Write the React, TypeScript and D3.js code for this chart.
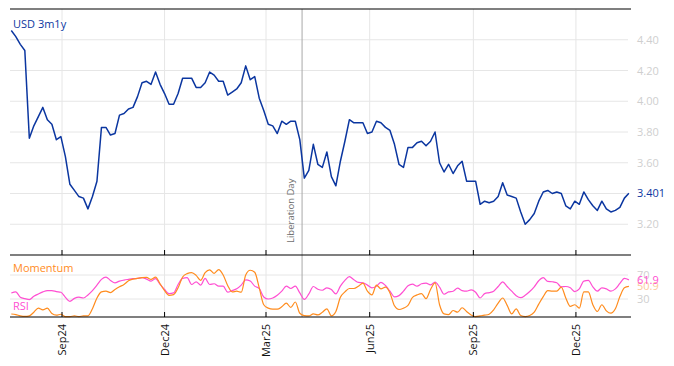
import React from 'react';
import * as d3 from 'd3';

// sampling of the series: one reading every 4 calendar days
const startDate = new Date(2024, 6, 18);
const stepDays = 4;

const usd3m1y = [
  4.46, 4.42, 4.37, 4.33, 3.76, 3.84, 3.90, 3.96, 3.88, 3.85,
  3.75, 3.77, 3.64, 3.46, 3.42, 3.38, 3.37, 3.30, 3.38, 3.48,
  3.83, 3.83, 3.78, 3.79, 3.91, 3.92, 3.95, 3.96, 4.03, 4.12,
  4.13, 4.11, 4.19, 4.11, 4.05, 3.98, 3.98, 4.05, 4.15, 4.15,
  4.15, 4.09, 4.09, 4.12, 4.19, 4.17, 4.13, 4.13, 4.04, 4.06,
  4.08, 4.12, 4.23, 4.14, 4.16, 4.02, 3.94, 3.85, 3.84, 3.79,
  3.87, 3.85, 3.87, 3.87, 3.75, 3.50, 3.55, 3.72, 3.59, 3.57,
  3.67, 3.51, 3.45, 3.61, 3.74, 3.88, 3.86, 3.86, 3.86, 3.79,
  3.80, 3.87, 3.86, 3.83, 3.81, 3.72, 3.59, 3.57, 3.70, 3.70,
  3.73, 3.74, 3.71, 3.74, 3.80, 3.60, 3.54, 3.59, 3.53, 3.58,
  3.61, 3.48, 3.48, 3.48, 3.33, 3.35, 3.34, 3.35, 3.38, 3.47,
  3.39, 3.38, 3.37, 3.28, 3.20, 3.23, 3.27, 3.35, 3.41, 3.42,
  3.40, 3.41, 3.40, 3.32, 3.30, 3.35, 3.33, 3.41, 3.36, 3.32,
  3.29, 3.35, 3.30, 3.28, 3.29, 3.31, 3.37, 3.401,
];

const rsi = [
  40, 42, 33, 30.6, 29, 34.5, 38.4, 41.8, 44, 44,
  42.4, 41.3, 32.8, 26, 31, 33, 31.7, 36.8, 44, 53,
  62.7, 66.6, 61, 57, 59.9, 61.5, 62.7, 63.8, 64.4, 65.5,
  63.2, 59.9, 63.8, 54.2, 45.8, 39, 40.1, 54.2, 64.4, 65.5,
  54.2, 58.7, 53.1, 64.4, 54.2, 55.4, 51.4, 51.4, 41.3, 44,
  47, 53.1, 62, 59.9, 51.4, 47.5, 33.4, 30, 31.7, 36.2,
  43, 51.4, 47.5, 51.4, 40.1, 29.4, 38.4, 50.8, 46.3, 44.6,
  48.6, 45.8, 38.4, 51.4, 61, 67.2, 62.1, 57.6, 57, 53.1,
  48.6, 51.4, 57.6, 52.5, 43, 33.4, 35.6, 43, 52, 54.8,
  51.4, 55.4, 56.5, 53.7, 58.2, 49.7, 37.9, 41.8, 43, 48,
  44, 43, 45.2, 41.3, 31.7, 39, 40.7, 43, 50.8, 58.7,
  50.8, 43, 35.6, 32.3, 36.2, 42.4, 50.3, 60.4, 65.5, 59.3,
  58.7, 57, 50.3, 50.8, 48.6, 42.4, 46.9, 59.9, 61, 50.3,
  43, 48.6, 46.9, 43, 46.9, 55.9, 64.4, 61.9,
];

const momentum = [
  5, 4, 2, 1, 2, 8, 14.8, 12, 14.8, 5.8,
  3, 4.6, 0.7, 0.7, 1.8, 0.7, 1.8, 1.8, 13.7, 31.7,
  41.8, 43, 40.7, 45.8, 50.3, 54.2, 60.4, 63.2, 64.4, 65.5,
  66, 62.7, 66.6, 55.4, 44, 36.2, 37.3, 48.6, 66.6, 72.3,
  73.9, 69.4, 61, 73.9, 78.5, 72.8, 79, 70, 52.5, 41.8,
  43, 41.3, 70, 77.9, 74.5, 48.6, 20.4, 14.8, 13.1, 13.1,
  17, 23.2, 16, 25, 6.3, 2.4, 1.8, 5.2, 3.5, 8,
  13.7, 1.8, 9.2, 32.8, 41.8, 47.5, 47.5, 51.4, 56.5, 43,
  36.8, 53.1, 46.9, 49.7, 40.1, 18.7, 12.5, 14.8, 19.3, 32.8,
  36.8, 39, 30.6, 45.8, 57, 20.4, 5.2, 4, 10.8, 8,
  15.4, 9.2, 3.5, 0.7, 1.8, 3, 4.6, 12, 23.2, 31.7,
  19.3, 5.2, 13.7, 2.4, 0.7, 2.4, 8, 21.5, 34, 44,
  43, 43, 49.7, 31.7, 17.6, 20.4, 14.8, 41.8, 41.8, 20.4,
  9.2, 20.4, 10.3, 6.3, 13.7, 34, 48.6, 50.9,
];

const tickDates = ['2024-09-01', '2024-12-01', '2025-03-01', '2025-06-01', '2025-09-01', '2025-12-01'];
const tickLabels = ['Sep24', 'Dec24', 'Mar25', 'Jun25', 'Sep25', 'Dec25'];
const rateTicks = [4.4, 4.2, 4.0, 3.8, 3.6, 3.4, 3.2];
const oscTicks = [70, 30];
const eventDates = ['2025-04-02'];
const eventLabels = ['Liberation Day'];

const W = 674;
const H = 366;
const left = 10;
const right = 631;
const gridRight = 628;
const topY = 9;
const midY = 255;
const bottomY = 317;

const blue = '#0b36a0';
const pink = '#ff4fd2';
const orange = '#ff8c1e';
const labelGrey = '#cfcfcf';
const gridColor = '#e6e6e6';
const font = 'Open Sans, sans-serif';

const parse = d3.timeParse('%Y-%m-%d');

export default function App() {
  const dates = usd3m1y.map((_, i) => d3.timeDay.offset(startDate, i * stepDays));

  const x = d3.scaleTime()
    .domain([dates[0], dates[dates.length - 1]])
    .range([11.3, 628.9]);

  const yRate = d3.scaleLinear().domain([3.0, 4.6]).range([midY, topY]);
  const yOsc = d3.scaleLinear().domain([0, 100]).range([bottomY, 257]);

  const rateLine = d3.line<number>()
    .x((_, i) => x(dates[i]))
    .y((v) => yRate(v));

  const oscLine = d3.line<number>()
    .x((_, i) => x(dates[i]))
    .y((v) => yOsc(v))
    .curve(d3.curveMonotoneX);

  const ticks = tickDates.map((d) => x(parse(d) as Date));
  const lastRsi = rsi[rsi.length - 1];
  const lastMom = momentum[momentum.length - 1];
  const lastRate = usd3m1y[usd3m1y.length - 1];

  const halo = { paintOrder: 'stroke' as const, stroke: 'white', strokeWidth: 3, strokeLinejoin: 'round' as const };

  return (
    <svg width={W} height={H} style={{ position: 'absolute', left: 0, top: 0 }} fontFamily={font}>
      <rect width={W} height={H} fill="white" />

      {/* grid */}
      {ticks.map((t, i) => (
        <line key={`vg${i}`} x1={t} x2={t} y1={topY} y2={bottomY} stroke={gridColor} strokeWidth={1} />
      ))}
      {rateTicks.map((v, i) => (
        <line key={`hg${i}`} x1={left} x2={gridRight} y1={yRate(v)} y2={yRate(v)} stroke={gridColor} strokeWidth={1} />
      ))}
      {oscTicks.map((v, i) => (
        <line key={`og${i}`} x1={left} x2={gridRight} y1={yOsc(v)} y2={yOsc(v)} stroke={gridColor} strokeWidth={1} />
      ))}

      {/* events */}
      {eventDates.map((d, i) => {
        const ex = x(parse(d) as Date);
        return (
          <g key={`ev${i}`}>
            <line x1={ex} x2={ex} y1={topY} y2={bottomY} stroke="#a8a8a8" strokeWidth={1} />
            <text transform={`translate(${ex - 8.5}, 243) rotate(-90)`} fontSize={9.5} fill="#6e6e6e">{eventLabels[i]}</text>
          </g>
        );
      })}

      {/* series */}
      <path d={oscLine(rsi) || ''} fill="none" stroke={pink} strokeWidth={1.2} />
      <path d={oscLine(momentum) || ''} fill="none" stroke={orange} strokeWidth={1.2} />
      <path d={rateLine(usd3m1y) || ''} fill="none" stroke={blue} strokeWidth={1.5} strokeLinejoin="round" />

      {/* frame */}
      <line x1={left} x2={right} y1={topY} y2={topY} stroke="black" strokeWidth={1.2} />
      <line x1={left} x2={right} y1={midY} y2={midY} stroke="black" strokeWidth={1.2} />
      <line x1={left} x2={right} y1={bottomY} y2={bottomY} stroke="black" strokeWidth={1.2} />
      {ticks.map((t, i) => (
        <g key={`tk${i}`}>
          <line x1={t} x2={t} y1={midY - 5} y2={midY} stroke="black" strokeWidth={1} />
          <line x1={t} x2={t} y1={bottomY - 5} y2={bottomY} stroke="black" strokeWidth={1} />
          <text transform={`translate(${t + 4}, 324) rotate(-90)`} textAnchor="end" fontSize={11} fill="#111">{tickLabels[i]}</text>
        </g>
      ))}

      {/* right axis labels */}
      {rateTicks.map((v, i) => (
        <text key={`rl${i}`} x={637} y={yRate(v) + 4} fontSize={11} fill={labelGrey}>{d3.format('.2f')(v)}</text>
      ))}
      {oscTicks.map((v, i) => (
        <text key={`ol${i}`} x={637} y={yOsc(v) + 4} fontSize={11} fill={labelGrey}>{v}</text>
      ))}
      <text x={637} y={yRate(lastRate) + 4} fontSize={11} fill={blue} style={halo}>{d3.format('.3f')(lastRate)}</text>
      <text x={637} y={yOsc(lastMom) + 4} fontSize={11} fill="#fdc99a">{d3.format('.1f')(lastMom)}</text>
      <text x={637} y={yOsc(lastRsi) + 4} fontSize={11} fill={pink}>{d3.format('.1f')(lastRsi)}</text>

      {/* legends */}
      <text x={13} y={28} fontSize={11} fill={blue} style={halo}>USD 3m1y</text>
      <text x={13} y={272} fontSize={11} fill={orange} style={halo}>Momentum</text>
      <text x={13} y={310} fontSize={11} fill={pink} style={halo}>RSI</text>
    </svg>
  );
}
